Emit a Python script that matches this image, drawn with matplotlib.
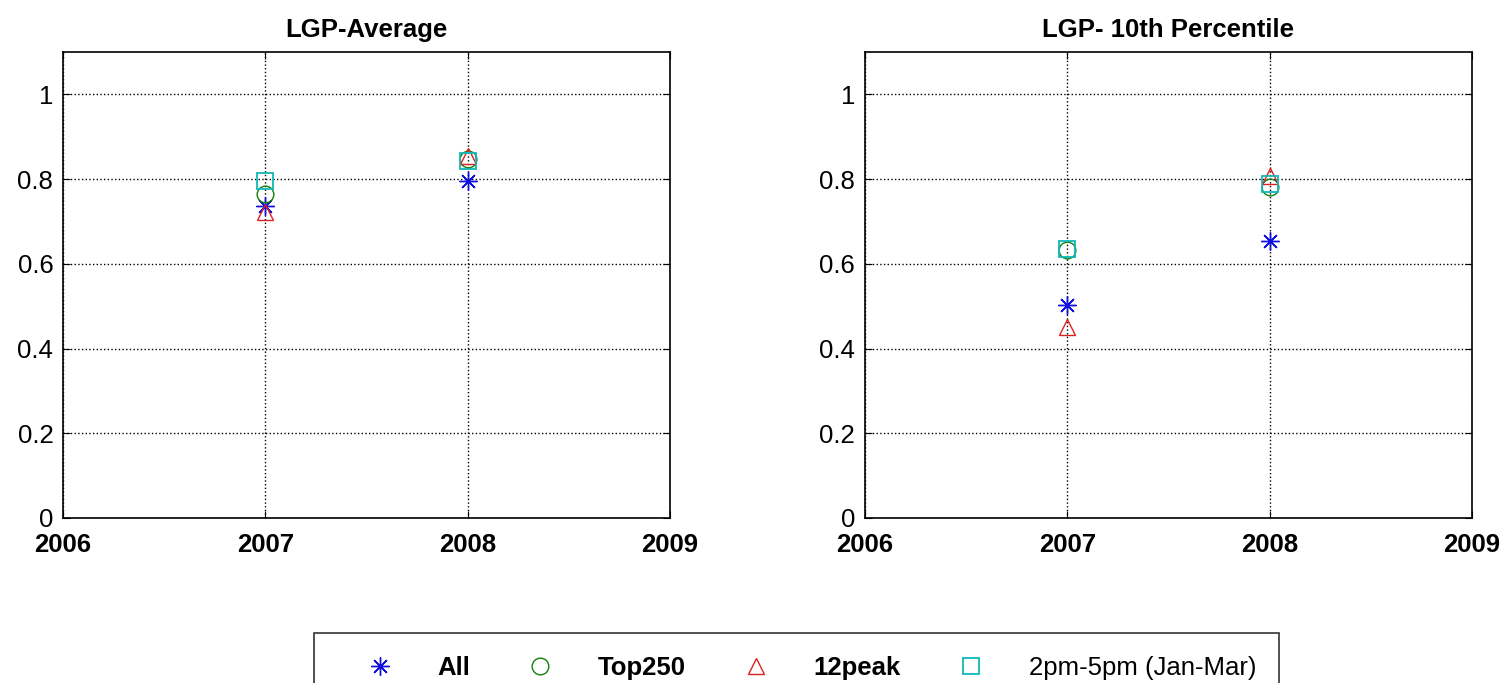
import numpy as np
from matplotlib import pyplot as plt

plt.rcParams['font.family'] = ['Liberation Sans', 'DejaVu Sans']

years = [2007, 2008]
series_names = ['All', 'Top250', '12peak', '2pm-5pm (Jan-Mar)']

# LGP average per year
avg_all = [0.737, 0.796]
avg_top250 = [0.765, 0.848]
avg_12peak = [0.722, 0.855]
avg_2to5 = [0.796, 0.843]

# LGP 10th percentile per year
p10_all = [0.502, 0.654]
p10_top250 = [0.633, 0.782]
p10_12peak = [0.450, 0.808]
p10_2to5 = [0.635, 0.789]

styles = [
    dict(marker=(8, 2, 0), color='#1010e0', ms=13, mew=1.0),
    dict(marker='o', mfc='none', mec='#108010', ms=12, mew=1.0),
    dict(marker='^', mfc='none', mec='#e02020', ms=12, mew=1.0),
    dict(marker='s', mfc='none', mec='#10b8b8', ms=11, mew=1.3),
]

fs = 18.5

fig = plt.figure(figsize=(15.04, 6.83), dpi=100)
ax1 = fig.add_axes([0.0419, 0.2416, 0.4036, 0.6823])
ax2 = fig.add_axes([0.5751, 0.2416, 0.4036, 0.6823])

panels = [
    (ax1, 'LGP-Average', [avg_all, avg_top250, avg_12peak, avg_2to5]),
    (ax2, 'LGP- 10th Percentile', [p10_all, p10_top250, p10_12peak, p10_2to5]),
]

handles = []
for ax, title, data in panels:
    handles = []
    for name, vals, st in zip(series_names, data, styles):
        h, = ax.plot(years, vals, ls='none', label=name, **st)
        handles.append(h)
    ax.set_xlim(2006, 2009)
    ax.set_ylim(0, 1.1)
    ax.set_xticks([2006, 2007, 2008, 2009])
    ax.set_yticks([0, 0.2, 0.4, 0.6, 0.8, 1])
    ax.set_yticklabels(['0', '0.2', '0.4', '0.6', '0.8', '1'])
    ax.grid(True, ls=':', color='black', lw=1.0)
    ax.tick_params(direction='in', labelsize=fs, length=5, top=True, right=True)
    ax.tick_params(axis='x', pad=11)
    ax.tick_params(axis='y', pad=7)
    for lbl in ax.get_xticklabels():
        lbl.set_fontweight('bold')
    for sp in ax.spines.values():
        sp.set_linewidth(1.2)
    ax.set_title(title, fontsize=fs, fontweight='bold', pad=11)

leg = fig.legend(handles, series_names, loc='upper left', ncol=4,
                 bbox_to_anchor=(314 / 1504, 1 - 633 / 683), borderaxespad=0,
                 frameon=True, fancybox=False, edgecolor='black', fontsize=fs,
                 handlelength=3.3, handletextpad=0.6, columnspacing=1.07,
                 borderpad=0.9)
leg.get_frame().set_linewidth(1.2)
for t in leg.get_texts()[:3]:
    t.set_fontweight('bold')

fig.savefig('out.png', dpi=100)
